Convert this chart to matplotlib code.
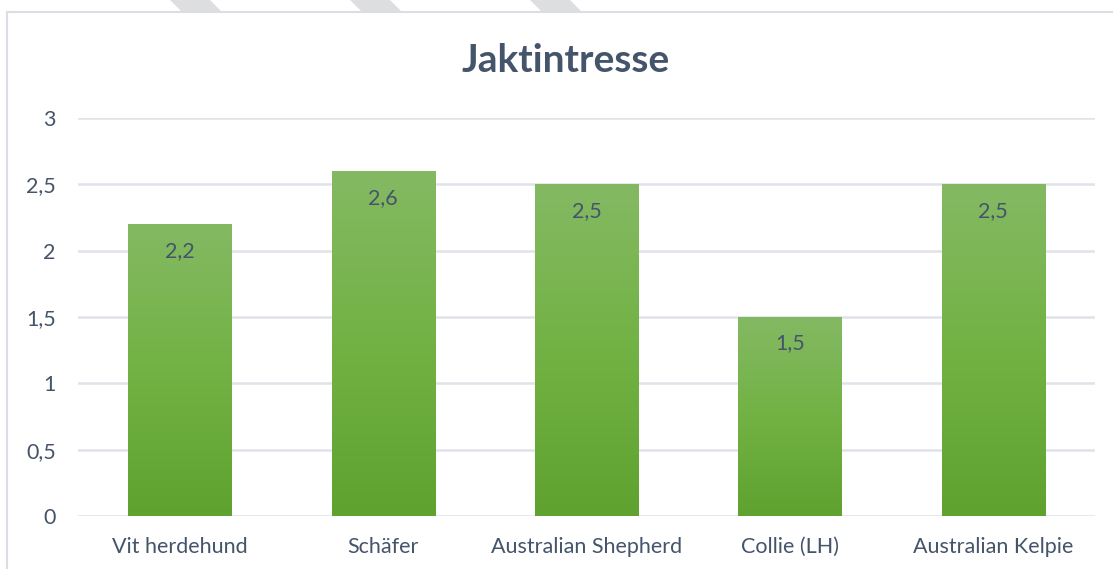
import numpy as np
import matplotlib
matplotlib.use("Agg")
import matplotlib.pyplot as plt
from matplotlib.patches import Polygon
from matplotlib.colors import LinearSegmentedColormap

# data
breeds = ["Vit herdehund", "Schäfer", "Australian Shepherd", "Collie (LH)", "Australian Kelpie"]
scores = [2.2, 2.6, 2.5, 1.5, 2.5]
yticks = [0, 0.5, 1, 1.5, 2, 2.5, 3]

text_col = "#44546a"
grid_col = "#dfe3e8"
plt.rcParams["font.family"] = ["Lato", "DejaVu Sans"]

fig = plt.figure(figsize=(11.13, 5.69), dpi=100)
ax = fig.add_axes([78 / 1113, 1 - 516 / 569, 1017 / 1113, 398 / 569])

# grey stripes at the very top + frame
for x0 in [170, 350, 530]:
    pts = [(x0 / 1113, 1), ((x0 + 40) / 1113, 1), ((x0 + 52) / 1113, 1 - 12 / 569), ((x0 + 12) / 1113, 1 - 12 / 569)]
    fig.patches.append(Polygon(pts, closed=True, transform=fig.transFigure, color="#dedede", lw=0))
fig.add_artist(plt.Line2D([7 / 1113, 1], [1 - 12 / 569, 1 - 12 / 569], transform=fig.transFigure, color="#d9dee5", lw=1.5))
fig.add_artist(plt.Line2D([7 / 1113, 7 / 1113], [0, 1 - 12 / 569], transform=fig.transFigure, color="#d9dee5", lw=1.5))

x = np.arange(len(breeds))
bars = ax.bar(x, scores, width=0.507, color="none", zorder=2)

# vertical gradient per bar
cmap = LinearSegmentedColormap.from_list("grn", ["#5fa22f", "#72b244", "#84b963"])
grad = np.linspace(0, 1, 256).reshape(-1, 1)
for b, v in zip(bars, scores):
    x0 = b.get_x()
    im = ax.imshow(grad, extent=[x0, x0 + b.get_width(), 0, v], origin="lower",
                   aspect="auto", cmap=cmap, zorder=2)
    im.set_clip_path(b)
    ax.text(b.get_x() + b.get_width() / 2, v - 0.2, f"{v:.1f}".replace(".", ","),
            ha="center", va="center", fontsize=15.5, color=text_col, zorder=3)

ax.set_xlim(-0.5, len(breeds) - 0.5)
ax.set_ylim(0, 3)
ax.set_yticks(yticks)
ax.set_yticklabels([f"{t:g}".replace(".", ",") for t in yticks])
ax.set_xticks(x)
ax.set_xticklabels(breeds)
ax.tick_params(axis="both", length=0, labelsize=15.5, labelcolor=text_col)
ax.tick_params(axis="x", pad=15)
ax.tick_params(axis="y", pad=16)
ax.yaxis.grid(True, color=grid_col, lw=1.8, zorder=0)
ax.set_axisbelow(True)
for s in ax.spines.values():
    s.set_visible(False)

fig.text(566 / 1113, 1 - 61 / 569, "Jaktintresse", ha="center", va="center",
         fontsize=28, fontweight="bold", color=text_col)

fig.savefig("out.png", dpi=100)
